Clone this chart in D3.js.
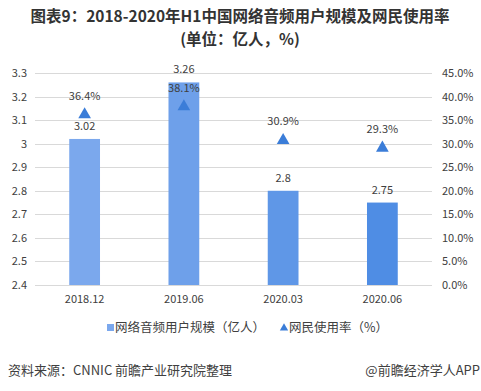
<!DOCTYPE html>
<html>
<head>
<meta charset="utf-8">
<script src="https://cdn.jsdelivr.net/npm/d3@7"></script>
<style>
  body { margin: 0; background: #fff; }
  text { font-family: "Microsoft YaHei", "Noto Sans CJK SC", sans-serif; }
</style>
</head>
<body>
<div id="chart"></div>
<script>
var categories = ["2018.12", "2019.06", "2020.03", "2020.06"];
var users = [3.02, 3.26, 2.8, 2.75];
var rates = [36.4, 38.1, 30.9, 29.3];
var leftTicks = [2.4, 2.5, 2.6, 2.7, 2.8, 2.9, 3, 3.1, 3.2, 3.3];
var rightTicks = [0, 5, 10, 15, 20, 25, 30, 35, 40, 45];
var barColors = ["#7ba8ed", "#6ea0ea", "#5f97e7", "#4f8de4"];

var W = 481, H = 391;
var svg = d3.select("#chart").append("svg")
  .attr("width", W)
  .attr("height", H);

var plotL = 35, plotR = 432, plotT = 73, plotB = 285;
var fontStack = "'Microsoft YaHei', 'Noto Sans CJK SC', sans-serif";

var x = d3.scaleBand().domain(categories).range([plotL, plotR]).paddingInner(0.69).paddingOuter(0.345);
var yL = d3.scaleLinear().domain([2.4, 3.3]).range([plotB, plotT]);
var yR = d3.scaleLinear().domain([0, 45]).range([plotB, plotT]);

// title
svg.append("text").attr("x", 240).attr("y", 22).attr("text-anchor", "middle")
  .attr("font-size", 15.5).attr("font-weight", "bold").attr("fill", "#333")
  .text("图表9：2018-2020年H1中国网络音频用户规模及网民使用率");
svg.append("text").attr("x", 240).attr("y", 45).attr("text-anchor", "middle")
  .attr("font-size", 15.5).attr("font-weight", "bold").attr("fill", "#333")
  .text("(单位：亿人，%)");

// grid
svg.selectAll("line.grid").data(leftTicks).enter().append("line")
  .attr("class", "grid")
  .attr("x1", plotL).attr("x2", plotR)
  .attr("y1", function(d){ return Math.round(yL(d)) + 0.5; })
  .attr("y2", function(d){ return Math.round(yL(d)) + 0.5; })
  .attr("stroke", "#d9d9d9").attr("stroke-width", 1);

// left axis
var axL = svg.append("g").attr("transform", "translate(" + (plotL - 8) + ",0)")
  .call(d3.axisLeft(yL).tickValues(leftTicks).tickSize(0).tickPadding(0)
    .tickFormat(function(d){ return String(+d.toFixed(1)); }));
axL.select(".domain").remove();
axL.selectAll("text").attr("font-size", 11).attr("fill", "#404040").style("font-family", fontStack);

// right axis
var axR = svg.append("g").attr("transform", "translate(442,0)")
  .call(d3.axisRight(yR).tickValues(rightTicks).tickSize(0).tickPadding(0)
    .tickFormat(function(d){ return d.toFixed(1) + "%"; }));
axR.select(".domain").remove();
axR.selectAll("text").attr("font-size", 11).attr("fill", "#404040").style("font-family", fontStack);

// x axis
var axX = svg.append("g").attr("transform", "translate(0," + plotB + ")")
  .call(d3.axisBottom(x).tickSize(0).tickPadding(10));
axX.select(".domain").remove();
axX.selectAll("text").attr("font-size", 11).attr("fill", "#404040").style("font-family", fontStack);

// bars
svg.selectAll("rect.bar").data(users).enter().append("rect")
  .attr("class", "bar")
  .attr("x", function(d, i){ return x(categories[i]); })
  .attr("width", x.bandwidth())
  .attr("y", function(d){ return yL(d); })
  .attr("height", function(d){ return plotB - yL(d); })
  .attr("fill", function(d, i){ return barColors[i]; });

svg.selectAll("text.blab").data(users).enter().append("text")
  .attr("class", "blab")
  .attr("x", function(d, i){ return x(categories[i]) + x.bandwidth() / 2; })
  .attr("y", function(d){ return yL(d) - 9; })
  .attr("text-anchor", "middle").attr("font-size", 11).attr("fill", "#404040")
  .text(function(d){ return d; });

// triangles
var tri = d3.symbol().type(d3.symbolTriangle).size(70);
svg.selectAll("path.tri").data(rates).enter().append("path")
  .attr("class", "tri")
  .attr("d", tri)
  .attr("transform", function(d, i){
    return "translate(" + (x(categories[i]) + x.bandwidth() / 2) + "," + (yR(d) + 1) + ")";
  })
  .attr("fill", "#3b7dd8");

svg.selectAll("text.rlab").data(rates).enter().append("text")
  .attr("class", "rlab")
  .attr("x", function(d, i){ return x(categories[i]) + x.bandwidth() / 2; })
  .attr("y", function(d){ return yR(d) - 14; })
  .attr("text-anchor", "middle").attr("font-size", 11).attr("fill", "#404040")
  .text(function(d){ return d.toFixed(1) + "%"; });

// legend
var lg = svg.append("g");
lg.append("rect").attr("x", 107).attr("y", 324).attr("width", 7).attr("height", 7).attr("fill", "#7ba8ed");
lg.append("text").attr("x", 115).attr("y", 332).attr("font-size", 12.5).attr("fill", "#404040")
  .text("网络音频用户规模（亿人）");
lg.append("path").attr("d", d3.symbol().type(d3.symbolTriangle).size(30))
  .attr("transform", "translate(284,328)").attr("fill", "#3b7dd8");
lg.append("text").attr("x", 289).attr("y", 332).attr("font-size", 12.5).attr("fill", "#404040")
  .text("网民使用率（%）");

// footer
svg.append("text").attr("x", 8).attr("y", 375).attr("font-size", 13).attr("fill", "#404040")
  .text("资料来源：CNNIC 前瞻产业研究院整理");
svg.append("text").attr("x", 480).attr("y", 375).attr("text-anchor", "end").attr("font-size", 13).attr("fill", "#404040")
  .text("@前瞻经济学人APP");
</script>
</body>
</html>
